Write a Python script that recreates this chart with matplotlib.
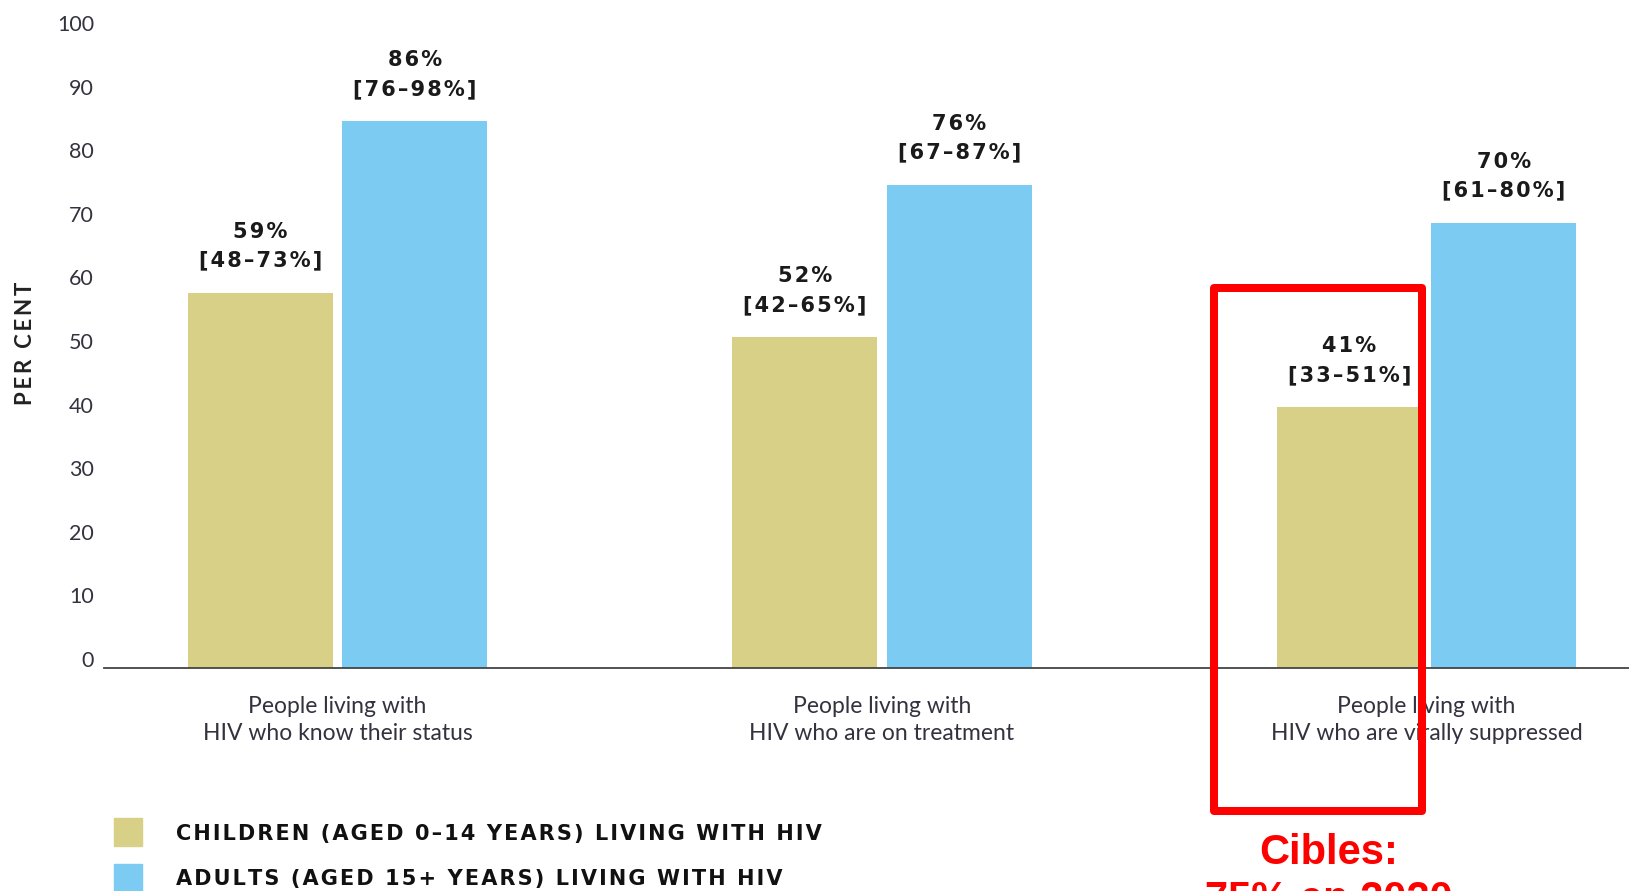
""" Grouped bar chart of HIV testing and treatment cascade, children vs adults. """

import matplotlib
matplotlib.use("Agg")
import matplotlib.pyplot as plt
from matplotlib.patches import Rectangle
from matplotlib.transforms import ScaledTranslation
import numpy as np

categories = ["People living with\nHIV who know their status",
              "People living with\nHIV who are on treatment",
              "People living with\nHIV who are virally suppressed"]
children_values = [59, 52, 41]
adults_values = [86, 76, 70]
children_ranges = ["[48–73%]", "[42–65%]", "[33–51%]"]
adults_ranges = ["[76–98%]", "[67–87%]", "[61–80%]"]
y_ticks = [0, 10, 20, 30, 40, 50, 60, 70, 80, 90, 100]
legend_labels = ["CHILDREN (AGED 0–14 YEARS) LIVING WITH HIV",
                 "ADULTS (AGED 15+ YEARS) LIVING WITH HIV"]
target_lines = ["Cibles:", "75% en 2020"]

CHILD_COLOR = "#d8d086"
ADULT_COLOR = "#7bcbf3"
TEXT_COLOR = "#333340"
W, H = 1629, 891


def spaced(text, sep="\u200a"):
    return sep.join(text)


def px(v):
    # pixels -> points at dpi 100
    return v * 0.72


def bar_labels(ax, xs, values, ranges):
    for x, v, r in zip(xs, values, ranges):
        ax.annotate(spaced(r), (x, v), xytext=(0, px(32)), textcoords="offset points",
                    ha="center", va="center", fontsize=15, fontweight="bold",
                    family=["DejaVu Sans"], color="#1a1a1a")
        ax.annotate(spaced("{}%".format(v)), (x, v), xytext=(0, px(61)), textcoords="offset points",
                    ha="center", va="center", fontsize=15, fontweight="bold",
                    family=["DejaVu Sans"], color="#1a1a1a")


def main():
    fig = plt.figure(figsize=(W / 100, H / 100), dpi=100)
    ax = fig.add_axes([104 / W, 1 - 668 / H, 1 - 104 / W, (668 - 32) / H])

    groups = np.arange(len(categories))
    width = 0.2665
    offset = 0.1419
    ax.bar(groups - offset, children_values, width=width, color=CHILD_COLOR, zorder=2)
    ax.bar(groups + offset, adults_values, width=width, color=ADULT_COLOR, zorder=2)
    bar_labels(ax, groups - offset, children_values, children_ranges)
    bar_labels(ax, groups + offset, adults_values, adults_ranges)

    ax.set_xlim(-0.4291, 2.372)
    ax.set_ylim(0, 100)
    for side in ["top", "right", "left"]:
        ax.spines[side].set_visible(False)
    ax.spines["bottom"].set_color("#444444")
    ax.spines["bottom"].set_linewidth(1.3)
    ax.spines["bottom"].set_zorder(3)

    ax.set_xticks([])
    ax.set_yticks(y_ticks)
    ax.set_yticklabels([str(t) for t in y_ticks], family=["Lato", "DejaVu Sans"],
                       fontsize=15.5, color=TEXT_COLOR)
    ax.tick_params(axis="y", length=0, pad=px(10))
    shift = ScaledTranslation(0, 9 / 100, fig.dpi_scale_trans)
    for label in ax.get_yticklabels():
        label.set_transform(label.get_transform() + shift)

    for x, cat in zip(groups, categories):
        ax.annotate(cat, (x, 0), xycoords=("data", "axes fraction"), xytext=(0, -px(52)),
                    textcoords="offset points", ha="center", va="center", fontsize=16.5,
                    family=["Lato", "DejaVu Sans"], color=TEXT_COLOR, linespacing=1.3,
                    annotation_clip=False)

    fig.text(26 / W, 1 - 343 / H, spaced("PER CENT", "\u2009"), rotation=90, ha="center",
             va="center", fontsize=16, family=["Lato", "DejaVu Sans"], fontweight="bold",
             color="#222222")

    # legend drawn by hand below the axis
    for i, (label, color) in enumerate(zip(legend_labels, [CHILD_COLOR, ADULT_COLOR])):
        top = 818 + i * 45.5
        fig.add_artist(Rectangle((114 / W, 1 - (top + 28) / H), 28 / W, 28 / H,
                                 transform=fig.transFigure, color=color))
        fig.text(176 / W, 1 - (top + 16) / H, spaced(label), ha="left", va="center",
                 fontsize=15, fontweight="bold", family=["DejaVu Sans"], color="#111111")

    # highlight around the viral suppression children bar
    fig.add_artist(Rectangle((1214 / W, 1 - 811 / H), 208 / W, 523 / H,
                             transform=fig.transFigure, fill=False, edgecolor="#ff0000",
                             linewidth=px(8), joinstyle="round", zorder=5))
    fig.text(1329 / W, 1 - 864 / H, target_lines[0], ha="center", va="baseline", fontsize=30,
             fontweight="bold", family=["Liberation Sans"], color="#ff0000")
    fig.text(1329 / W, 1 - 911 / H, target_lines[1], ha="center", va="baseline", fontsize=30,
             fontweight="bold", family=["Liberation Sans"], color="#ff0000")

    fig.savefig("out.png", dpi=100)
    plt.close(fig)


if __name__ == "__main__":
    main()
